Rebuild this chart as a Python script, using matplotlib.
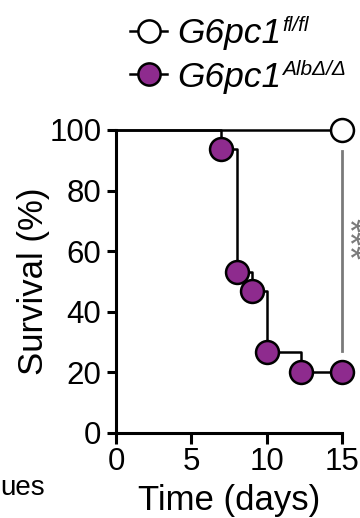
import matplotlib
matplotlib.use("Agg")
import matplotlib.pyplot as plt
from matplotlib.lines import Line2D

plt.rcParams['font.family'] = ['Liberation Sans', 'DejaVu Sans']

# Data
ctrl_times = [0, 15]
ctrl_surv = [100, 100]
ko_step_times = [0, 7, 8, 9, 10, 12.3, 15]
ko_step_surv = [100, 93.75, 53.3, 46.7, 26.7, 20, 20]
ko_event_times = [7, 8, 9, 10, 12.3, 15]
ko_event_surv = [93.75, 53.3, 46.7, 26.7, 20, 20]
sig_x = [15, 15]
sig_y = [93, 27]
gene_labels = ["G6pc1", "G6pc1"]
genotype_sups = ["fl/fl", "AlbΔ/Δ"]
purple = "#8E2B8E"
grey = "#7a7a7a"

W, H, DPI = 3.6, 5.18, 100
fig = plt.figure(figsize=(W, H), dpi=DPI)
ax = fig.add_axes([116/360, 1-433/518, (342-116)/360, (433-130)/518])

ax.step(ctrl_times, ctrl_surv, where='post', color='black', lw=1.8, clip_on=False, zorder=2)
ax.plot([15], [100], 'o', ms=16.5, mfc='white', mec='black', mew=1.8, clip_on=False, zorder=4)
ax.step(ko_step_times, ko_step_surv, where='post', color='black', lw=1.8, clip_on=False, zorder=2)
ax.plot(ko_event_times, ko_event_surv, 'o', ms=16.5, mfc=purple, mec='black', mew=1.8, clip_on=False, zorder=4)

ax.plot(sig_x, sig_y, color=grey, lw=2, clip_on=False, zorder=1)
ax.text(15.23, 64, "***", rotation=270, ha='center', va='center', fontsize=26, color=grey, clip_on=False)

ax.set_xlim(0, 15)
ax.set_ylim(0, 100)
ax.set_xticks([0, 5, 10, 15])
ax.set_yticks([0, 20, 40, 60, 80, 100])
for s in ['top', 'right']:
    ax.spines[s].set_visible(False)
for s in ['left', 'bottom']:
    ax.spines[s].set_linewidth(2.2)
ax.tick_params(axis='both', labelsize=22.5, width=2.2, direction='out')
ax.tick_params(axis='y', length=6.5, pad=4)
ax.tick_params(axis='x', length=8, pad=2)
ax.set_xlabel("Time (days)", fontsize=25)
ax.set_ylabel("Survival (%)", fontsize=25)
ax.xaxis.set_label_coords(0.5, -0.167)
ax.yaxis.set_label_coords(-0.29, 0.5)

handles = [
    Line2D([], [], color='black', lw=1.8, marker='o', ms=16, mfc='white', mec='black', mew=1.8),
    Line2D([], [], color='black', lw=1.8, marker='o', ms=16, mfc=purple, mec='black', mew=1.8),
]
leg = fig.legend(handles, gene_labels, loc='upper left', bbox_to_anchor=(130/360, 1-17/518), frameon=False,
                 prop={'style': 'italic', 'size': 25.5}, handlelength=1.05, handletextpad=0.28,
                 labelspacing=0.3, borderpad=0, borderaxespad=0)

fig.canvas.draw()
renderer = fig.canvas.get_renderer()
for t, sup in zip(leg.get_texts(), genotype_sups):
    bb = t.get_window_extent(renderer)
    fig.text((bb.x1 + 1) / (W * DPI), (bb.y1 + 1) / (H * DPI), sup, fontsize=15, style='italic',
             ha='left', va='top')

fig.text(0, 1-488/518, "ues", fontsize=20, ha='left', va='center')

fig.savefig("out.png", dpi=DPI)
